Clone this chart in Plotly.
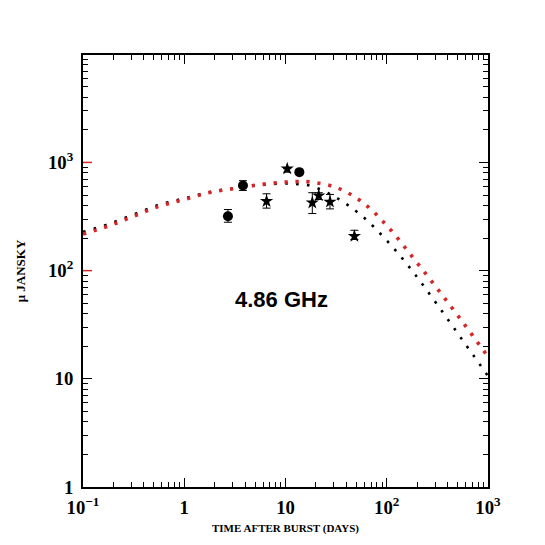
import plotly.graph_objects as go

# model curves (days, micro-Jansky)
t_model = [0.1, 0.178, 0.316, 0.562, 1.0, 1.78, 3.16, 5.62, 10.0, 13.3, 17.8, 31.6,
           56.2, 100, 178, 316, 562, 1000]
flux_red = [218, 258, 318, 392, 454, 527, 574, 625, 658, 665, 659, 587,
            436, 261, 135, 68, 33.5, 16]
flux_black = [228, 269, 330, 406, 465, 533, 578, 617, 640, 630, 606, 474,
              323, 190, 100, 48.4, 22.7, 10.6]

# observations: filled circles
t_circ = [2.70, 3.80, 13.7]
f_circ = [318, 612, 813]
f_circ_hi = [367, 678, 813]
f_circ_lo = [280, 551, 813]

# observations: stars
t_star = [6.5, 10.4, 18.4, 21.3, 27.5, 47.9]
f_star = [438, 875, 424, 494, 432, 208]
f_star_hi = [513, 875, 525, 525, 506, 236]
f_star_lo = [378, 813, 337, 454, 372, 194]

SERIF = 'Liberation Serif, Times New Roman, serif'
X_RANGE = [-1, 3]
Y_RANGE = [0, 3.993]

fig = go.Figure()

fig.add_trace(go.Scatter(x=t_model, y=flux_black, mode='lines', line_shape='spline',
                         line=dict(color='black', width=2.6, dash='2.6px,8.4px'),
                         hoverinfo='skip'))
fig.add_trace(go.Scatter(x=t_model, y=flux_red, mode='lines', line_shape='spline',
                         line=dict(color='#d62728', width=3.6, dash='3.2px,7.8px'),
                         hoverinfo='skip'))

fig.add_trace(go.Scatter(
    x=t_circ, y=f_circ, mode='markers',
    marker=dict(symbol='circle', size=10, color='black'),
    error_y=dict(type='data', symmetric=False,
                 array=[h - v for h, v in zip(f_circ_hi, f_circ)],
                 arrayminus=[v - l for v, l in zip(f_circ, f_circ_lo)],
                 color='black', thickness=1, width=4)))
fig.add_trace(go.Scatter(
    x=t_star, y=f_star, mode='markers',
    marker=dict(symbol='star', size=10, color='black'),
    error_y=dict(type='data', symmetric=False,
                 array=[h - v for h, v in zip(f_star_hi, f_star)],
                 arrayminus=[v - l for v, l in zip(f_star, f_star_lo)],
                 color='black', thickness=1, width=4)))

# invisible trace so the overlay axes (minor ticks) get drawn
fig.add_trace(go.Scatter(x=t_model, y=flux_red, mode='lines', opacity=0,
                         xaxis='x2', yaxis='y2', hoverinfo='skip'))

# red major tick marks on the left axis
for yv in [100, 1000]:
    fig.add_shape(type='line', xref='paper', yref='y', x0=0, x1=0.022, y0=yv, y1=yv,
                  line=dict(color='#d62728', width=1.5))

fig.add_annotation(x=0.49, y=0.433, xref='paper', yref='paper', text='<b>4.86 GHz</b>',
                   showarrow=False,
                   font=dict(family='Liberation Sans, Arial', size=22, color='black'))

axis_common = dict(type='log', showgrid=False, zeroline=False, showline=True, linecolor='black',
                   linewidth=1.5, mirror='allticks', ticks='inside', ticklen=9, tickwidth=1,
                   tickcolor='black', tickmode='linear', dtick=1, exponentformat='power',
                   tickfont=dict(family=SERIF, size=15, color='black', weight='bold'))
minor_common = dict(type='log', showgrid=False, zeroline=False, showline=True,
                    linecolor='black', linewidth=1.5,
                    mirror='allticks', ticks='inside', ticklen=5, tickwidth=1,
                    tickcolor='black', tickmode='linear', dtick='D1', showticklabels=False)

# page body adds an 8px offset, margins compensate for it
fig.update_layout(
    width=545, height=545, showlegend=False,
    paper_bgcolor='white', plot_bgcolor='white',
    margin=dict(l=75, r=65, t=47, b=66),
    xaxis=dict(axis_common, range=X_RANGE, ticklabelstandoff=3,
               title=dict(text='TIME AFTER BURST (DAYS)', standoff=8,
                          font=dict(family=SERIF, size=11, color='black', weight='bold'))),
    yaxis=dict(axis_common, range=Y_RANGE, ticklabelstandoff=5,
               title=dict(text='\u03bc JANSKY', standoff=19,
                          font=dict(family=SERIF, size=13, color='black', weight='bold'))),
    xaxis2=dict(minor_common, range=X_RANGE, overlaying='x', anchor='y', side='bottom'),
    yaxis2=dict(minor_common, range=Y_RANGE, overlaying='y', anchor='x', side='left'),
)

fig.write_html("out.html")
